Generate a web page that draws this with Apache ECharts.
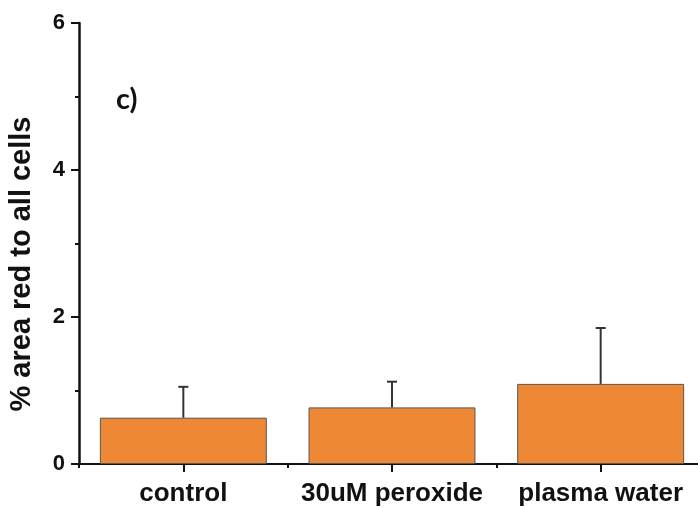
<!DOCTYPE html>
<html>
<head>
<meta charset="utf-8">
<script src="https://cdn.jsdelivr.net/npm/echarts@6/dist/echarts.min.js"></script>
<style>
  html, body { margin: 0; padding: 0; background: #ffffff; }
  #chart { width: 698px; height: 507px; }
</style>
</head>
<body>
<div id="chart"></div>
<script>
// Treatment groups and measured values (% area red relative to all cells)
const categories = ['control', '30uM peroxide', 'plasma water'];
const means = [0.63, 0.77, 1.09];
const errors = [0.42, 0.35, 0.76];
const yTicks = [0, 2, 4, 6];

const FONT = '"Liberation Sans", Arial, sans-serif';

const chart = echarts.init(document.getElementById('chart'), null, { renderer: 'canvas' });

// Upper-only error bars with a short cap
function renderErrorBar(params, api) {
  const idx = api.value(0);
  const top = api.value(1) + api.value(2);
  const base = api.coord([idx, api.value(1)]);
  const hi = api.coord([idx, top]);
  const halfCap = 5;
  const style = { stroke: '#333333', lineWidth: 2, fill: null };
  return {
    type: 'group',
    children: [
      { type: 'line', shape: { x1: base[0], y1: base[1], x2: hi[0], y2: hi[1] }, style: style },
      { type: 'line', shape: { x1: hi[0] - halfCap, y1: hi[1], x2: hi[0] + halfCap, y2: hi[1] }, style: style }
    ]
  };
}

chart.setOption({
  backgroundColor: '#ffffff',
  animation: false,
  // plot area runs slightly past the right edge of the canvas
  grid: { left: 79, width: 626, top: 23, bottom: 43, containLabel: false, outerBoundsMode: 'none' },
  xAxis: [
    {
      type: 'category',
      data: categories,
      axisLine: { lineStyle: { color: '#111111', width: 2 } },
      axisTick: { show: true, alignWithLabel: false, length: 4, lineStyle: { color: '#111111', width: 2 } },
      axisLabel: { color: '#111111', fontFamily: FONT, fontWeight: 'bold', fontSize: 26, margin: 17, interval: 0 },
      splitLine: { show: false }
    },
    {
      type: 'category',
      data: categories,
      position: 'bottom',
      axisLine: { show: false },
      axisTick: { show: true, alignWithLabel: true, length: 8, lineStyle: { color: '#111111', width: 2 } },
      axisLabel: { show: false },
      splitLine: { show: false }
    }
  ],
  yAxis: {
    type: 'value',
    min: yTicks[0],
    max: yTicks[yTicks.length - 1],
    interval: 2,
    axisLine: { show: true, lineStyle: { color: '#111111', width: 2.5 } },
    axisTick: { show: true, length: 8, lineStyle: { color: '#111111', width: 2 } },
    minorTick: { show: true, splitNumber: 2, length: 4, lineStyle: { color: '#111111', width: 2 } },
    axisLabel: { color: '#111111', fontFamily: FONT, fontWeight: 'bold', fontSize: 22, margin: 14 },
    splitLine: { show: false }
  },
  series: [
    {
      type: 'bar',
      data: means,
      barCategoryGap: '20%',
      itemStyle: { color: '#EF8834', borderColor: '#555555', borderWidth: 1 }
    },
    {
      type: 'custom',
      renderItem: renderErrorBar,
      data: means.map((m, i) => [i, m, errors[i]]),
      encode: { x: 0, y: [1, 2] },
      z: 10
    }
  ],
  graphic: [
    {
      // y-axis title
      type: 'text',
      x: 22,
      y: 264,
      rotation: Math.PI / 2,
      style: {
        text: '% area red to all cells',
        fill: '#111111',
        font: 'bold 29px "Liberation Sans", Arial, sans-serif',
        align: 'center',
        verticalAlign: 'middle'
      }
    },
    {
      // panel label
      type: 'text',
      left: 116,
      top: 85,
      style: { text: 'c)', fill: '#111111', font: 'bold 29px Lato, "Open Sans", sans-serif' }
    }
  ]
});
</script>
</body>
</html>
